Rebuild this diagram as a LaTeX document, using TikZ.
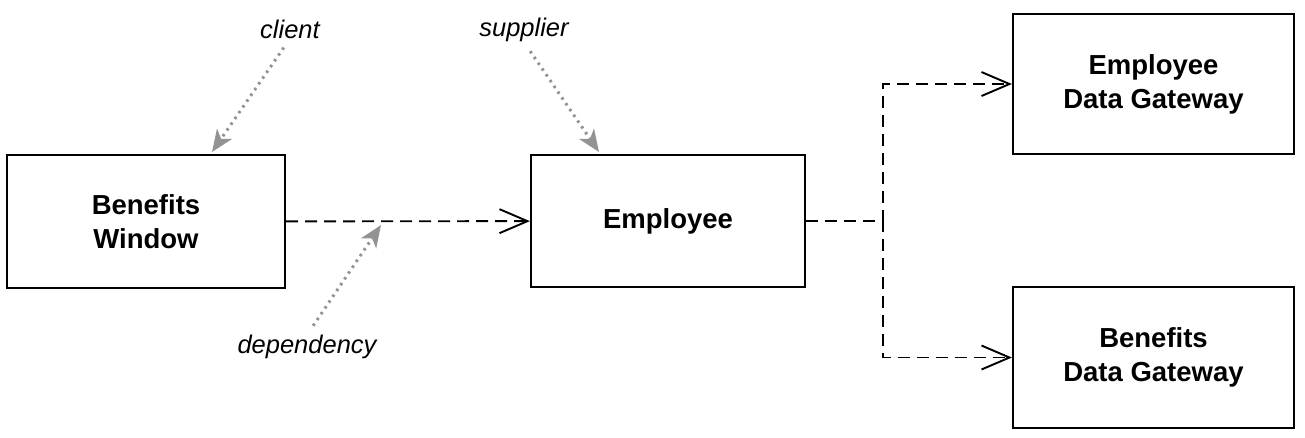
\documentclass[tikz,border=0pt]{standalone}
\usepackage{fontspec}
\setmainfont{Liberation Sans}
\usetikzlibrary{arrows.meta}

\begin{document}
\begin{tikzpicture}[x=1pt,y=-1pt,
  box node/.style={draw,line width=2.2pt,align=center,inner sep=0pt,
    font=\fontsize{27.5}{34}\selectfont\bfseries},
  note node/.style={inner sep=0pt,font=\fontsize{25.5}{30}\selectfont\itshape},
  dep line/.style={line width=1.9pt,dash pattern=on 12pt off 7pt,
    -{Straight Barb[length=28pt,width=24pt]}},
  note line/.style={gray!85,line width=3pt,dash pattern=on 2.5pt off 4.5pt,
    -{Stealth[length=22pt,width=18pt,inset=6pt]}}]

  \useasboundingbox (0,0) rectangle (1305,437);

  \node[box node,minimum width=278pt,minimum height=133pt] (bw) at (146,221.5) {Benefits\\Window};
  \node[box node,minimum width=274pt,minimum height=132pt] (emp) at (668,221) {Employee};
  \node[box node,minimum width=281pt,minimum height=140pt] (edg) at (1153.5,84) {Employee\\Data Gateway};
  \node[box node,minimum width=281pt,minimum height=141pt] (bdg) at (1153.5,357.5) {Benefits\\Data Gateway};

  \node[note node] (client) at (290,29) {client};
  \node[note node] (supplier) at (524,30) {supplier};
  \node[note node] (dependency) at (307,347) {dependency};

  \coordinate (branch) at (883,221);
  \coordinate (client tip) at (212,152);
  \coordinate (supplier tip) at (599,152);
  \coordinate (dependency tip) at (381,225);

  % dependencies
  \draw[dep line] (bw) -- (emp);
  \draw[dep line] (emp.east) -- (branch) |- (edg.west);
  \draw[dep line] (emp.east) -- (branch) |- (bdg.west);

  % notes
  \draw[note line,shorten <=11pt] (client.south) -- (client tip);
  \draw[note line,shorten <=11pt] (supplier.south) -- (supplier tip);
  \draw[note line,shorten <=11pt] (dependency.north) -- (dependency tip);
\end{tikzpicture}
\end{document}
